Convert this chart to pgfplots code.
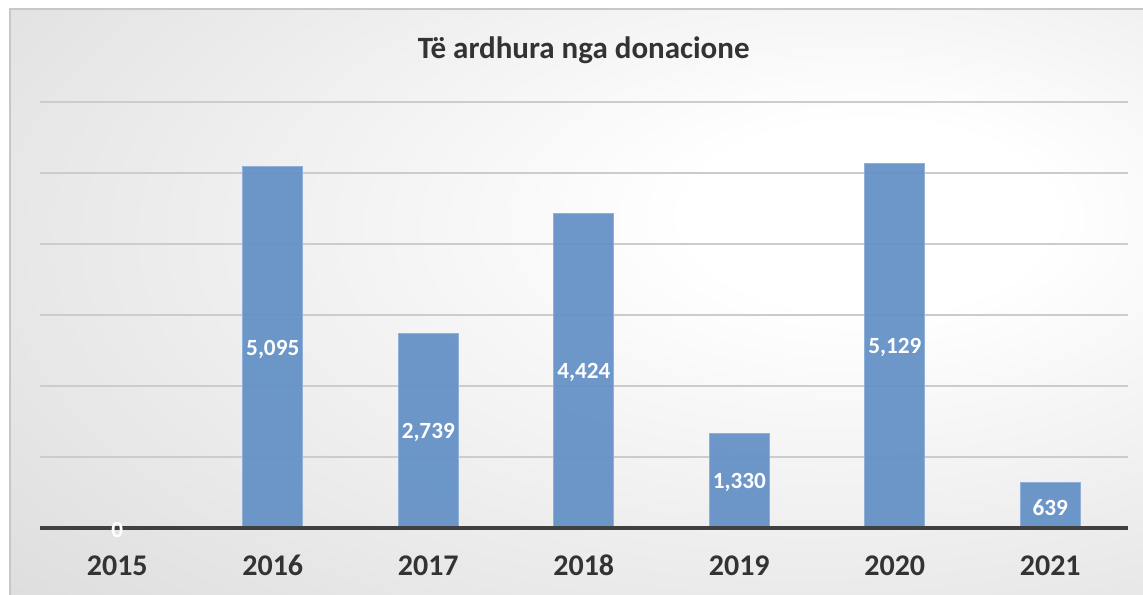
\documentclass[border=0pt]{standalone}
\usepackage{pgfplots}
\pgfplotsset{compat=1.18}
\usepackage{fontspec}
\setmainfont{Carlito}
\definecolor{barblue}{HTML}{6592C6}
\definecolor{baredge}{HTML}{8FB0D8}
\definecolor{txt}{HTML}{333333}
\pgfdeclareradialshading{bgshade}{\pgfpoint{14bp}{8bp}}{color(0bp)=(white); color(8bp)=(white); color(72bp)=(black!23); color(100bp)=(black!23)}
\begin{document}
\begin{tikzpicture}
\useasboundingbox (-19.75pt,-33pt) rectangle (551.75pt,264pt);
\fill[white] (-19.75pt,-33pt) rectangle (551.75pt,264pt);
\shade[shading=bgshade] (-14.75pt,-34pt) rectangle (553pt,259.5pt);
\draw[black!22, line width=0.8pt] (-14.75pt,-40pt) -- (-14.75pt,259.5pt) -- (560pt,259.5pt);
\begin{axis}[
  at={(0,0)}, anchor=south west,
  scale only axis, width=544.25pt, height=213pt,
  xmin=-0.5, xmax=6.5, ymin=0, ymax=6000,
  ybar, bar width=30pt,
  xtick={0,...,6},
  xticklabels={2015,2016,2017,2018,2019,2020,2021},
  ytick={0,1000,...,6000}, yticklabels={},
  ymajorgrids, grid style={black!20, line width=0.8pt},
  axis line style={draw=none},
  major tick style={draw=none},
  xticklabel style={font=\bfseries\fontsize{15}{18}\selectfont, text=txt, anchor=base, yshift=-19.5pt},
  /pgf/number format/assume math mode=true,
  /pgf/number format/1000 sep={,},
  clip=false,
]
\addplot[fill=barblue, fill opacity=0.95, draw=baredge, line width=0.4pt, bar shift=0pt] coordinates {
 (0,0) (1,5095) (2,2739) (3,4424) (4,1330) (5,5129) (6,639)};
\draw[black!75, line width=2pt] (axis cs:-0.5,0) -- (axis cs:6.5,0);
\addplot[draw=none, mark=none, bar shift=0pt, fill=none,
  point meta=explicit,
  nodes near coords={\pgfmathprintnumber{\pgfplotspointmeta}},
  every node near coord/.append style={anchor=center, text=white, font=\bfseries\fontsize{11.6}{14}\selectfont, yshift=-1pt}]
 table[x=x, y=h, meta=v] {
 x h v
 0 0 0
 1 2547.5 5095
 2 1369.5 2739
 3 2212 4424
 4 665 1330
 5 2564.5 5129
 6 319.5 639
 };
\node[font=\bfseries\fontsize{15.5}{18}\selectfont, text=txt] at (rel axis cs:0.5,1) [yshift=26pt] {Të ardhura nga donacione};
\end{axis}
\end{tikzpicture}
\end{document}
